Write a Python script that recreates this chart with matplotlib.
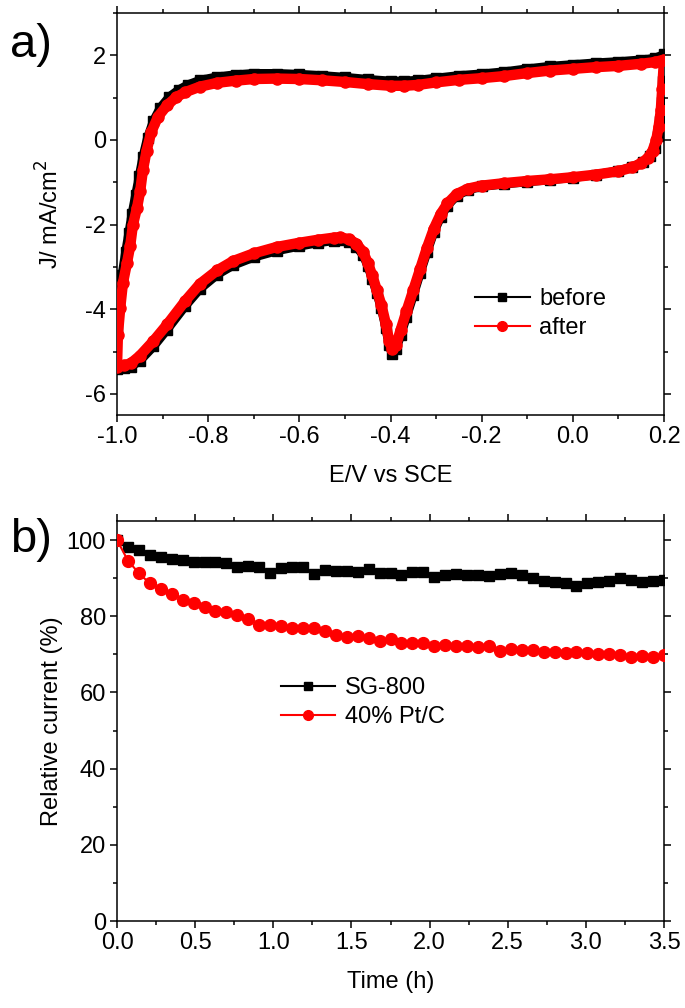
import matplotlib
matplotlib.use("Agg")
import matplotlib.pyplot as plt
from matplotlib.lines import Line2D
from matplotlib.ticker import MultipleLocator

plt.rcParams['font.family'] = ['Liberation Sans', 'DejaVu Sans']

# ---- Panel a: cyclic voltammograms ----
E_before = [-1.000, -0.999, -0.995, -0.989, -0.981, -0.974, -0.967, -0.959, -0.951, -0.943,
            -0.933, -0.920, -0.905, -0.885, -0.865, -0.845, -0.818, -0.780, -0.740, -0.700,
            -0.650, -0.600, -0.550, -0.500, -0.450, -0.400, -0.370, -0.340, -0.300, -0.250,
            -0.200, -0.150, -0.100, -0.050, 0.000, 0.050, 0.100, 0.150, 0.180, 0.200,
            0.198, 0.195, 0.191, 0.186, 0.180, 0.170, 0.155, 0.130, 0.100, 0.050,
            0.000, -0.050, -0.100, -0.150, -0.200, -0.230, -0.255, -0.275, -0.290, -0.305,
            -0.320, -0.335, -0.350, -0.365, -0.378, -0.388, -0.396, -0.403, -0.410, -0.420,
            -0.430, -0.440, -0.450, -0.460, -0.475, -0.490, -0.510, -0.525, -0.560, -0.600,
            -0.650, -0.700, -0.745, -0.780, -0.818, -0.850, -0.890, -0.920, -0.950, -0.970,
            -0.985, -1.000]
J_before = [-5.40, -4.50, -3.80, -3.20, -2.65, -2.20, -1.75, -1.30, -0.85, -0.40,
            0.05, 0.45, 0.76, 1.02, 1.18, 1.30, 1.41, 1.49, 1.54, 1.57,
            1.57, 1.55, 1.52, 1.48, 1.43, 1.39, 1.39, 1.41, 1.46, 1.52,
            1.56, 1.61, 1.68, 1.74, 1.78, 1.82, 1.85, 1.89, 1.93, 2.02,
            1.40, 0.90, 0.45, 0.10, -0.18, -0.38, -0.52, -0.64, -0.73, -0.82,
            -0.89, -0.94, -0.99, -1.04, -1.10, -1.18, -1.32, -1.55, -1.82, -2.18,
            -2.65, -3.15, -3.67, -4.18, -4.62, -4.95, -5.05, -4.85, -4.45, -3.98,
            -3.62, -3.28, -2.97, -2.72, -2.52, -2.42, -2.37, -2.38, -2.43, -2.51,
            -2.62, -2.77, -2.96, -3.18, -3.52, -3.92, -4.48, -4.88, -5.22, -5.36,
            -5.40, -5.42]

E_after = [-1.000, -0.998, -0.993, -0.987, -0.978, -0.971, -0.965, -0.956, -0.949, -0.943,
           -0.935, -0.925, -0.910, -0.890, -0.870, -0.850, -0.818, -0.780, -0.740, -0.700,
           -0.650, -0.600, -0.550, -0.500, -0.450, -0.400, -0.370, -0.340, -0.300, -0.250,
           -0.200, -0.150, -0.100, -0.050, 0.000, 0.050, 0.100, 0.150, 0.180, 0.200,
           0.196, 0.193, 0.188, 0.183, 0.175, 0.165, 0.150, 0.130, 0.100, 0.050,
           0.000, -0.050, -0.100, -0.150, -0.200, -0.230, -0.255, -0.275, -0.290, -0.305,
           -0.320, -0.335, -0.350, -0.365, -0.378, -0.388, -0.396, -0.403, -0.410, -0.420,
           -0.430, -0.440, -0.450, -0.460, -0.475, -0.490, -0.510, -0.525, -0.560, -0.600,
           -0.650, -0.700, -0.745, -0.780, -0.818, -0.850, -0.890, -0.920, -0.950, -0.970,
           -0.985, -1.000]
J_after = [-5.35, -4.60, -3.98, -3.38, -2.90, -2.50, -2.00, -1.60, -1.20, -0.70,
           -0.25, 0.18, 0.55, 0.82, 1.01, 1.13, 1.26, 1.35, 1.40, 1.44,
           1.45, 1.44, 1.41, 1.37, 1.32, 1.28, 1.28, 1.30, 1.36, 1.42,
           1.46, 1.51, 1.58, 1.64, 1.68, 1.72, 1.75, 1.80, 1.84, 1.90,
           1.20, 0.70, 0.30, 0.00, -0.25, -0.42, -0.55, -0.65, -0.74, -0.82,
           -0.88, -0.93, -0.97, -1.02, -1.08, -1.15, -1.28, -1.50, -1.75, -2.10,
           -2.55, -3.05, -3.55, -4.05, -4.50, -4.85, -4.95, -4.75, -4.35, -3.90,
           -3.55, -3.20, -2.90, -2.65, -2.45, -2.35, -2.30, -2.31, -2.36, -2.43,
           -2.53, -2.68, -2.86, -3.08, -3.40, -3.80, -4.36, -4.75, -5.10, -5.28,
           -5.33, -5.36]

# ---- Panel b: chronoamperometry ----
time_h = [0.00, 0.07, 0.14, 0.21, 0.28, 0.35, 0.42, 0.49, 0.56, 0.63,
          0.70, 0.77, 0.84, 0.91, 0.98, 1.05, 1.12, 1.19, 1.26, 1.33,
          1.40, 1.47, 1.54, 1.61, 1.68, 1.75, 1.82, 1.89, 1.96, 2.03,
          2.10, 2.17, 2.24, 2.31, 2.38, 2.45, 2.52, 2.59, 2.66, 2.73,
          2.80, 2.87, 2.94, 3.01, 3.08, 3.15, 3.22, 3.29, 3.36, 3.43, 3.50]
sg800 = [100.0, 98.3, 97.4, 96.1, 95.6, 94.9, 94.8, 94.3, 94.3, 94.3,
         93.9, 93.0, 93.2, 92.8, 91.4, 92.6, 92.8, 92.8, 91.0, 92.1,
         92.0, 92.0, 91.5, 92.3, 91.3, 91.3, 90.8, 91.5, 91.5, 90.4,
         90.8, 91.1, 90.8, 90.8, 90.6, 91.0, 91.3, 90.8, 90.0, 89.3,
         89.0, 88.8, 87.9, 88.6, 89.0, 89.3, 90.0, 89.5, 89.1, 89.3, 89.5]
ptc = [100.0, 94.6, 91.3, 88.6, 87.2, 85.9, 84.3, 83.6, 82.3, 81.4,
       81.1, 80.3, 79.2, 77.7, 77.7, 77.5, 77.0, 76.8, 76.8, 76.0,
       75.1, 74.5, 74.7, 74.4, 73.4, 74.0, 72.9, 72.9, 72.9, 72.2,
       72.5, 72.3, 72.3, 71.9, 72.1, 71.0, 71.4, 71.2, 71.2, 70.6,
       70.7, 70.3, 70.7, 70.3, 70.1, 70.1, 69.9, 69.3, 69.5, 69.2, 69.7]

RED = '#ff0000'
FS = 17

fig = plt.figure(figsize=(6.85, 10.08), dpi=100)
W, H = 685.0, 1008.0
ax1 = fig.add_axes([117 / W, 1 - 415 / H, 547 / W, 402 / H])
ax2 = fig.add_axes([117 / W, 1 - 921 / H, 547 / W, 400 / H])

def style(ax):
    for s in ax.spines.values():
        s.set_linewidth(1.1)
    ax.tick_params(which='both', direction='out', top=True, right=True,
                   labeltop=False, labelright=False, width=1.1, labelsize=FS, pad=3)
    ax.tick_params(which='major', length=5)
    ax.tick_params(which='minor', length=3)

# Panel a
ax1.plot(E_before, J_before, color='black', lw=6.5, marker='s', ms=6.5,
         solid_joinstyle='round', solid_capstyle='round', zorder=2)
ax1.plot(E_after, J_after, color=RED, lw=7.5, marker='o', ms=8,
         solid_joinstyle='round', solid_capstyle='round', zorder=3)
ax1.set_xlim(-1.0, 0.2)
ax1.set_ylim(-6.5, 3.0)
ax1.xaxis.set_major_locator(MultipleLocator(0.2))
ax1.xaxis.set_minor_locator(MultipleLocator(0.1))
ax1.yaxis.set_major_locator(MultipleLocator(2))
ax1.yaxis.set_minor_locator(MultipleLocator(1))
ax1.xaxis.set_major_formatter(plt.FuncFormatter(lambda v, p: f"{v:.1f}".replace('-0.0', '0.0')))
ax1.yaxis.set_major_formatter(plt.FuncFormatter(lambda v, p: f"{v:.0f}"))
style(ax1)
ax1.set_xlabel('E/V vs SCE', fontsize=FS)
ax1.set_ylabel('J/ mA/cm$^2$', fontsize=FS)
ax1.xaxis.set_label_coords(0.5, -0.125)
ax1.yaxis.set_label_coords(-0.098, 0.5)
h1 = [Line2D([], [], color='black', lw=1.5, marker='s', ms=6),
      Line2D([], [], color=RED, lw=1.5, marker='o', ms=7)]
ax1.legend(h1, ['before', 'after'], loc='upper left', bbox_to_anchor=(0.655, 0.315),
           frameon=False, fontsize=FS, handlelength=2.3, handletextpad=0.4,
           labelspacing=0.3, borderpad=0, borderaxespad=0)

# Panel b
ax2.plot(time_h, sg800, color='black', lw=1.5, marker='s', ms=7.5, zorder=2)
ax2.plot(time_h, ptc, color=RED, lw=1.5, marker='o', ms=8.5, zorder=3)
ax2.set_xlim(0, 3.5)
ax2.set_ylim(0, 105)
ax2.xaxis.set_major_locator(MultipleLocator(0.5))
ax2.xaxis.set_minor_locator(MultipleLocator(0.25))
ax2.yaxis.set_major_locator(MultipleLocator(20))
ax2.yaxis.set_minor_locator(MultipleLocator(10))
ax2.xaxis.set_major_formatter(plt.FuncFormatter(lambda v, p: f"{v:.1f}"))
ax2.yaxis.set_major_formatter(plt.FuncFormatter(lambda v, p: f"{v:.0f}"))
style(ax2)
ax2.set_xlabel('Time (h)', fontsize=FS)
ax2.set_ylabel('Relative current (%)', fontsize=FS)
ax2.xaxis.set_label_coords(0.5, -0.125)
ax2.yaxis.set_label_coords(-0.098, 0.5)
h2 = [Line2D([], [], color='black', lw=1.5, marker='s', ms=6),
      Line2D([], [], color=RED, lw=1.5, marker='o', ms=7)]
ax2.legend(h2, ['SG-800', '40% Pt/C'], loc='upper left', bbox_to_anchor=(0.30, 0.61),
           frameon=False, fontsize=FS, handlelength=2.3, handletextpad=0.4,
           labelspacing=0.3, borderpad=0, borderaxespad=0)

fig.text(10 / W, 1 - 45 / H, 'a)', fontsize=34, va='center', ha='left')
fig.text(10 / W, 1 - 540 / H, 'b)', fontsize=34, va='center', ha='left')

fig.savefig('out.png', dpi=100)
